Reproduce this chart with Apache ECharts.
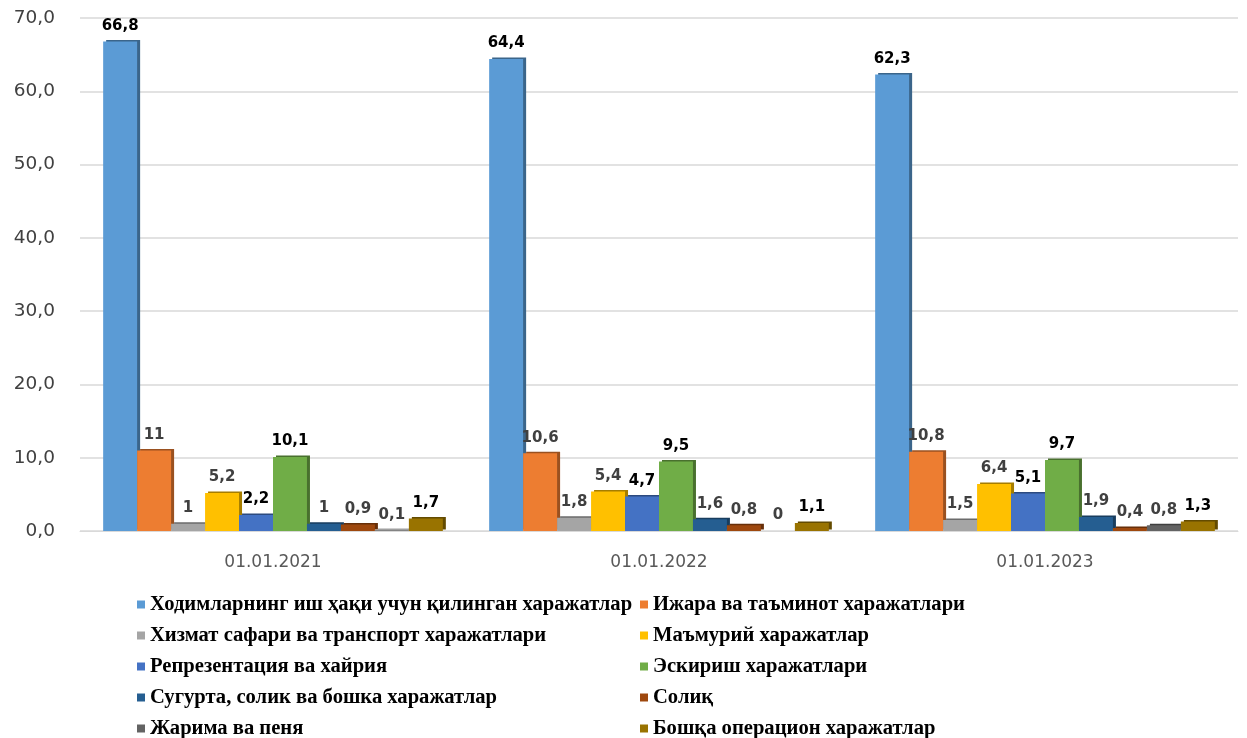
<!DOCTYPE html>
<html><head><meta charset="utf-8">
<script src="https://cdn.jsdelivr.net/npm/echarts@6/dist/echarts.min.js"></script>
<style>html,body{margin:0;padding:0;background:#fff}#c{width:1247px;height:738px}</style>
</head><body><div id="c"></div>
<script>
const categories = ['01.01.2021', '01.01.2022', '01.01.2023'];
const seriesNames = [
  'Ходимларнинг иш ҳақи учун қилинган харажатлар',
  'Ижара ва таъминот харажатлари',
  'Хизмат сафари ва транспорт харажатлари',
  'Маъмурий харажатлар',
  'Репрезентация ва хайрия',
  'Эскириш харажатлари',
  'Сугурта, солик ва бошка харажатлар',
  'Солиқ',
  'Жарима ва пеня',
  'Бошқа операцион харажатлар'
];
const s1 = [66.8, 64.4, 62.3];
const s2 = [11, 10.6, 10.8];
const s3 = [1, 1.8, 1.5];
const s4 = [5.2, 5.4, 6.4];
const s5 = [2.2, 4.7, 5.1];
const s6 = [10.1, 9.5, 9.7];
const s7 = [1, 1.6, 1.9];
const s8 = [0.9, 0.8, 0.4];
const s9 = [0.1, 0, 0.8];
const s10 = [1.7, 1.1, 1.3];
const seriesData = [s1, s2, s3, s4, s5, s6, s7, s8, s9, s10];
const colors = ['#5B9BD5', '#ED7D31', '#A5A5A5', '#FFC000', '#4472C4', '#70AD47', '#255E91', '#9E480E', '#636363', '#997300'];
const labelColors = ['#000', '#404040', '#404040', '#404040', '#000', '#000', '#404040', '#404040', '#404040', '#000'];

function darken(hex, f) {
  const n = parseInt(hex.slice(1), 16);
  const r = Math.round(((n >> 16) & 255) * f), g = Math.round(((n >> 8) & 255) * f), b = Math.round((n & 255) * f);
  return 'rgb(' + r + ',' + g + ',' + b + ')';
}

const chart = echarts.init(document.getElementById('c'));
const legendText = {fontFamily: 'Liberation Serif', fontWeight: 'bold', fontSize: 20.6, color: '#000'};
const legendBase = {orient: 'vertical', top: 594, height: 150, width: 500, itemGap: 10, itemWidth: 8, itemHeight: 8, icon: 'rect',
  textStyle: legendText, padding: 0, itemStyle: {borderWidth: 0, shadowBlur: 0, shadowOffsetX: 0, shadowOffsetY: 0, shadowColor: 'transparent'}};
chart.setOption({
  animation: false,
  color: colors,
  grid: {left: 80, right: 9, top: 18, bottom: 207},
  legend: [
    Object.assign({data: seriesNames.filter((_, i) => i % 2 === 0), left: 137}, legendBase),
    Object.assign({data: seriesNames.filter((_, i) => i % 2 === 1), left: 640}, legendBase)
  ],
  xAxis: {
    type: 'category', data: categories,
    axisLine: {lineStyle: {color: '#D9D9D9'}},
    axisTick: {show: false},
    axisLabel: {color: '#595959', fontSize: 17, fontFamily: 'DejaVu Sans', margin: 23}
  },
  yAxis: {
    type: 'value', min: 0, max: 70, interval: 10,
    axisLine: {show: false}, axisTick: {show: false},
    splitLine: {lineStyle: {color: '#D9D9D9', width: 1.5}},
    axisLabel: {color: '#404040', fontSize: 18.5, fontFamily: 'DejaVu Sans', margin: 25,
      formatter: v => v.toFixed(1).replace('.', ',')}
  },
  series: seriesData.map((d, i) => ({
    name: seriesNames[i], type: 'bar', data: d,
    barGap: '0%', barCategoryGap: '12%',
    itemStyle: {color: colors[i], borderWidth: 0,
      shadowColor: darken(colors[i], 0.65), shadowBlur: 0, shadowOffsetX: 3, shadowOffsetY: -1.5},
    label: {show: true, position: 'top', distance: 8, fontFamily: 'DejaVu Sans', fontWeight: 'bold', fontSize: 15,
      color: labelColors[i], formatter: p => String(p.value).replace('.', ',')}
  }))
});
</script></body></html>
